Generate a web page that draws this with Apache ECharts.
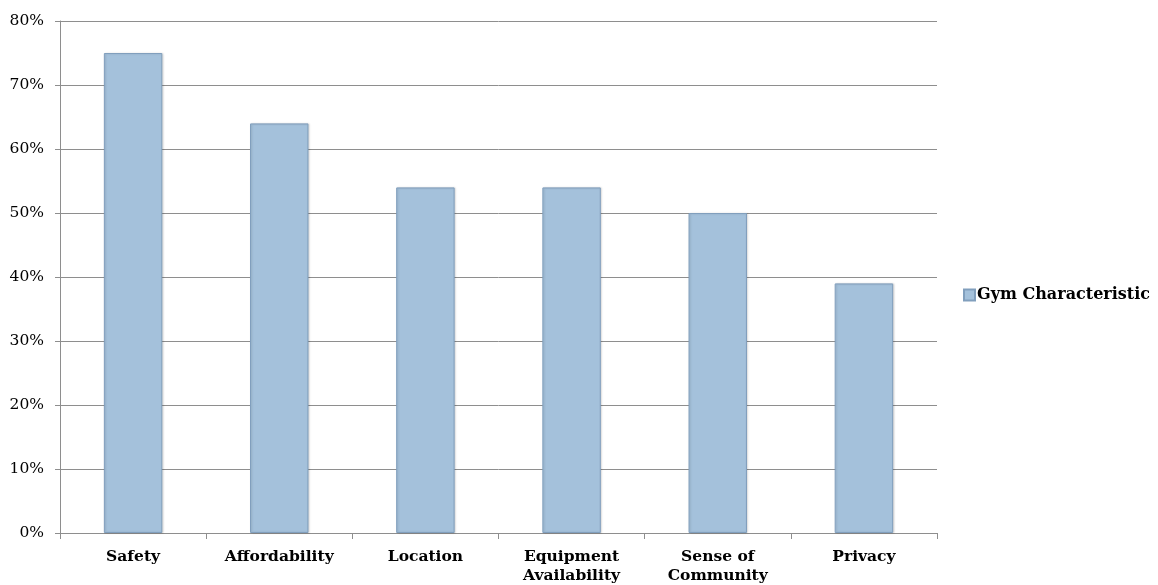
<!DOCTYPE html>
<html>
<head>
<meta charset="utf-8">
<script src="https://cdn.jsdelivr.net/npm/echarts@6/dist/echarts.min.js"></script>
<style>
  html, body { margin: 0; padding: 0; background: #fff; }
  #chart { width: 1158px; height: 585px; }
</style>
</head>
<body>
<div id="chart"></div>
<script>
const categories = ['Safety', 'Affordability', 'Location', 'Equipment\nAvailability', 'Sense of\nCommunity', 'Privacy']
const gymValues = [75, 64, 54, 54, 50, 39]
const seriesName = 'Gym Characteristic'

const fontFamily = '"DejaVu Serif", "Liberation Serif", serif'
const gridColor = '#8e8e8e'

const chart = echarts.init(document.getElementById('chart'))

chart.setOption({
  animation: false,
  textStyle: { fontFamily: fontFamily },
  grid: { left: 60, right: 221, top: 21, bottom: 51 },
  legend: {
    orient: 'vertical',
    left: 958,
    top: 282,
    itemWidth: 11,
    itemHeight: 11,
    itemGap: 4,
    icon: 'rect',
    data: [seriesName],
    textStyle: { fontFamily: fontFamily, fontWeight: 'bold', fontSize: 16, color: '#000', padding: [0, 0, 0, -3] }
  },
  xAxis: {
    type: 'category',
    data: categories,
    axisLine: { lineStyle: { color: gridColor } },
    axisTick: { show: true, length: 6, lineStyle: { color: gridColor } },
    axisLabel: { color: '#000', fontWeight: 'bold', fontSize: 15.5, margin: 14, lineHeight: 19, interval: 0 }
  },
  yAxis: {
    type: 'value',
    min: 0,
    max: 80,
    interval: 10,
    axisLine: { show: true, lineStyle: { color: gridColor } },
    axisTick: { show: true, length: 5, lineStyle: { color: gridColor } },
    axisLabel: { color: '#000', fontSize: 15.5, margin: 16, formatter: '{value}%' },
    splitLine: { lineStyle: { color: gridColor } }
  },
  series: [
    {
      name: seriesName,
      type: 'bar',
      data: gymValues,
      barCategoryGap: '60%',
      itemStyle: {
        color: '#a4c1db',
        borderColor: '#819fbd',
        borderWidth: 1,
        shadowColor: 'rgba(0,0,0,0.15)',
        shadowBlur: 2,
        shadowOffsetX: 1
      }
    }
  ]
})
</script>
</body>
</html>
